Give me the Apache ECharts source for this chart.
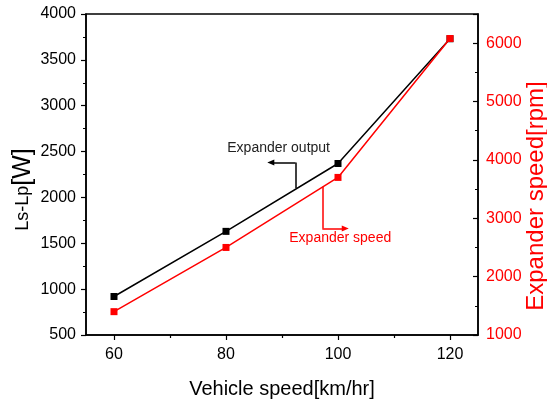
<!DOCTYPE html>
<html><head><meta charset="utf-8">
<script src="https://cdn.jsdelivr.net/npm/echarts@6/dist/echarts.min.js"></script>
<style>html,body{margin:0;padding:0;background:#fff}#c{width:547px;height:406px}</style>
</head><body><div id="c"></div>
<script>
// ---- data ----
const speeds = [60, 80, 100, 120];
const xTickValues = [60, 80, 100, 120];
const xMinorValues = [70, 90, 110];
const outputW = [920, 1630, 2370, 3730];
const expanderRpm = [1400, 2500, 3700, 6080];
const outputLabel = 'Expander output';
const speedLabel = 'Expander speed';
// annotation anchors (data space)
const outputArrow = [[92.4, 2100], [92.4, 2380], [88.0, 2380]];
const outputTextPos = [89.4, 2540];
const speedArrow = [[97.2, 3540], [97.2, 2825], [101.3, 2825]];
const speedTextPos = [100.4, 2660];

const FONT = 'Liberation Sans, Arial, sans-serif';
const chart = echarts.init(document.getElementById('c'), null, {renderer: 'canvas'});
const plain = v => String(v);

function arrowLines(pts) {
  return [
    [{coord: pts[0], symbol: 'none'}, {coord: pts[1], symbol: 'none'}],
    [{coord: pts[1], symbol: 'none'}, {coord: pts[2], symbol: 'triangle', symbolSize: [6, 7]}]
  ];
}

chart.setOption({
  animation: false,
  backgroundColor: '#fff',
  textStyle: {fontFamily: FONT},
  grid: {left: 86, right: 69, top: 14, bottom: 71, show: true, borderColor: '#000', borderWidth: 1.5,
    containLabel: false, outerBoundsMode: 'none'},
  xAxis: [{
    type: 'value', min: 55, max: 125,
    axisLine: {lineStyle: {color: '#000', width: 1.5}},
    axisTick: {show: true, length: 5, lineStyle: {color: '#000', width: 1.2}, customValues: xTickValues},
    axisLabel: {customValues: xTickValues, formatter: plain, fontSize: 16, color: '#000', margin: 12, fontFamily: FONT},
    splitLine: {show: false},
    name: 'Vehicle speed[km/hr]', nameLocation: 'middle', nameGap: 44, nameMoveOverlap: false,
    nameTextStyle: {fontSize: 20, color: '#000', fontFamily: FONT}
  }, {
    type: 'value', min: 55, max: 125, position: 'bottom',
    axisLine: {show: false},
    axisTick: {show: true, length: 3, lineStyle: {color: '#000', width: 1.2}, customValues: xMinorValues},
    axisLabel: {show: false},
    splitLine: {show: false}
  }],
  yAxis: [{
    type: 'value', min: 500, max: 4000, interval: 500, position: 'left',
    axisLine: {show: true, lineStyle: {color: '#000', width: 1.5}},
    axisTick: {show: true, length: 5, lineStyle: {color: '#000', width: 1.2}},
    minorTick: {show: true, splitNumber: 2, length: 3, lineStyle: {color: '#000', width: 1}},
    axisLabel: {fontSize: 16, color: '#000', margin: 10, formatter: plain, fontFamily: FONT},
    splitLine: {show: false},
    name: '{a|Ls-Lp}{b|[W]}', nameLocation: 'middle', nameGap: 50, nameRotate: 90, nameMoveOverlap: false,
    nameTextStyle: {padding: [0, 30, 0, 0], rich: {
      a: {fontSize: 18, color: '#000', fontFamily: FONT},
      b: {fontSize: 25, color: '#000', fontFamily: FONT}
    }}
  }, {
    type: 'value', min: 1000, max: 6500, interval: 1000, position: 'right',
    axisLine: {show: true, lineStyle: {color: '#000', width: 1.5}},
    axisTick: {show: true, inside: true, length: 5, lineStyle: {color: '#000', width: 1.2}},
    minorTick: {show: true, splitNumber: 2, length: 3, lineStyle: {color: '#000', width: 1}},
    axisLabel: {fontSize: 16, color: '#ff0000', margin: 8, showMaxLabel: false, formatter: plain, fontFamily: FONT},
    splitLine: {show: false},
    name: 'Expander speed[rpm]', nameLocation: 'middle', nameGap: 46, nameRotate: 90, nameMoveOverlap: false,
    nameTextStyle: {fontSize: 24, color: '#ff0000', padding: [0, 43, 0, 0], fontFamily: FONT}
  }],
  series: [{
    type: 'line', name: outputLabel, xAxisIndex: 0, yAxisIndex: 0,
    data: speeds.map((s, i) => [s, outputW[i]]),
    symbol: 'rect', symbolSize: 7, showAllSymbol: true,
    itemStyle: {color: '#000'}, lineStyle: {color: '#000', width: 1.5}, z: 2,
    markLine: {silent: true, animation: false, symbol: ['none', 'none'], label: {show: false},
      lineStyle: {color: '#000', width: 1.5, type: 'solid'}, emphasis: {disabled: true},
      data: arrowLines(outputArrow)},
    markPoint: {silent: true, animation: false, data: [{coord: outputTextPos, symbol: 'circle', symbolSize: 0,
      label: {show: true, position: 'inside', formatter: outputLabel, color: '#222', fontSize: 14, fontFamily: FONT}}]}
  }, {
    type: 'line', name: speedLabel, xAxisIndex: 0, yAxisIndex: 1,
    data: speeds.map((s, i) => [s, expanderRpm[i]]),
    symbol: 'rect', symbolSize: 7, showAllSymbol: true,
    itemStyle: {color: '#ff0000'}, lineStyle: {color: '#ff0000', width: 1.5}, z: 3,
    markLine: {silent: true, animation: false, symbol: ['none', 'none'], label: {show: false},
      lineStyle: {color: '#ff0000', width: 1.5, type: 'solid'}, emphasis: {disabled: true},
      data: arrowLines(speedArrow)},
    markPoint: {silent: true, animation: false, data: [{coord: speedTextPos, symbol: 'circle', symbolSize: 0,
      label: {show: true, position: 'inside', formatter: speedLabel, color: '#ff0000', fontSize: 14, fontFamily: FONT}}]}
  }]
});
</script></body></html>
